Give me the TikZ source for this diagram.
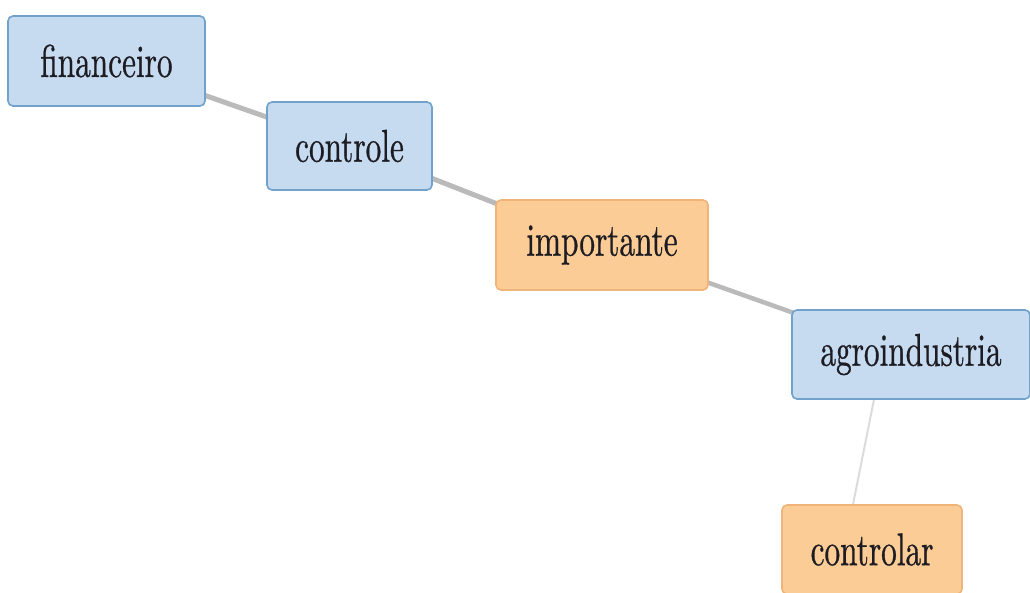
\documentclass[tikz,border=0pt]{standalone}
\usepackage{fontspec}
\usetikzlibrary{calc,backgrounds}
\newfontfamily\wordfont{lmroman10-regular.otf}[FakeStretch=0.68, FakeBold=0.6]
\definecolor{bluefill}{RGB}{198,218,240}
\definecolor{blueline}{RGB}{112,162,204}
\definecolor{orangefill}{RGB}{252,204,150}
\definecolor{orangeline}{RGB}{240,180,120}
\definecolor{linkgray}{RGB}{186,186,186}
\definecolor{linklight}{RGB}{220,220,220}
\definecolor{labeltext}{RGB}{28,28,34}
\tikzset{
  term/.style={rectangle, rounded corners=5pt, line width=1.6pt, inner sep=0pt,
    text=labeltext, anchor=center, font=\wordfont\fontsize{46}{54}\selectfont},
  blueterm/.style={term, fill=bluefill, draw=blueline},
  orangeterm/.style={term, fill=orangefill, draw=orangeline},
  stronglink/.style={draw=linkgray, line width=5pt},
  weaklink/.style={draw=linklight, line width=2pt}
}
\begin{document}
\begin{tikzpicture}[x=1pt, y=-1pt]
  \useasboundingbox (0,0) rectangle (1030,592);

  % word nodes
  \node[blueterm, minimum width=197pt, minimum height=90pt] (fin) at (106.5,61) {financeiro};
  \node[blueterm, minimum width=165pt, minimum height=88pt] (ctl) at (349.5,146) {controle};
  \node[orangeterm, minimum width=212pt, minimum height=90pt] (imp) at (602,245) {importante};
  \node[blueterm, minimum width=238pt, minimum height=89pt] (agr) at (911,354.5) {agroindustria};
  \node[orangeterm, minimum width=180pt, minimum height=89pt] (cla) at (872,549.5) {controlar};

  % attachment points of the weak link
  \coordinate (agrlink) at ($(agr.center)+(-28,0)$);
  \coordinate (clalink) at ($(cla.center)+(-28,0)$);

  % links, drawn underneath the nodes
  \begin{scope}[on background layer]
    \fill[white] (0,0) rectangle (1030,592);
    \path[stronglink] (fin.center) -- (ctl.center);
    \path[stronglink] (ctl.center) -- (imp.center);
    \path[stronglink, line width=4.5pt] (imp.center) -- (agr.center);
    \path[weaklink] (agrlink) -- (clalink);
  \end{scope}
\end{tikzpicture}
\end{document}
